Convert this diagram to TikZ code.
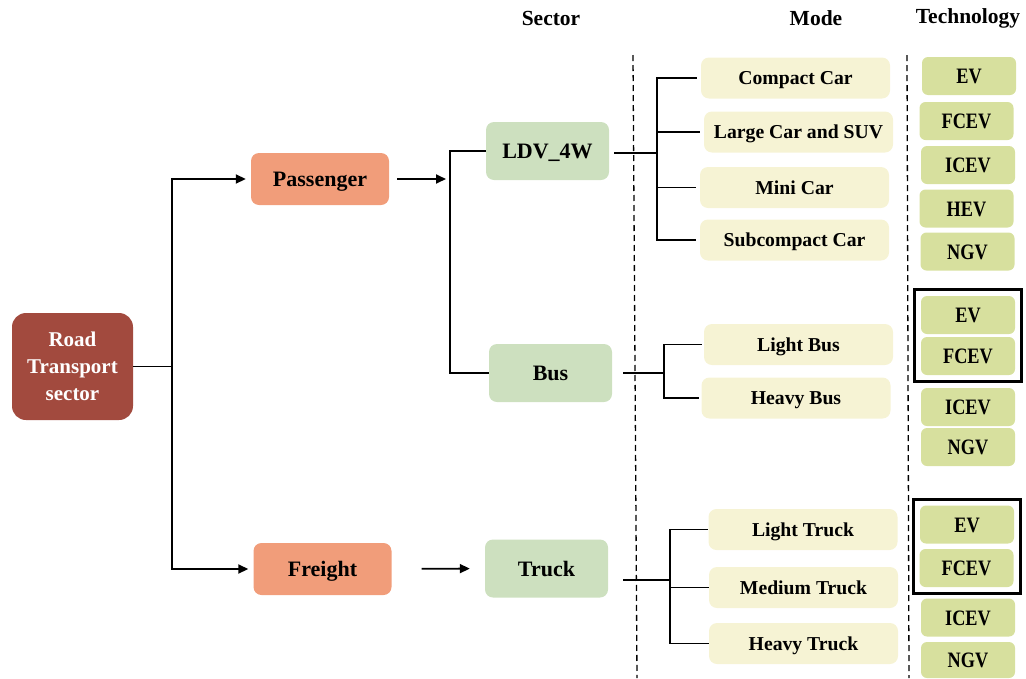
\documentclass[tikz,border=0pt]{standalone}
\usepackage{fontspec}
\setmainfont{Liberation Serif}
\usepackage{graphicx}
\usetikzlibrary{arrows.meta,fit}

\definecolor{roadred}{RGB}{162,74,62}
\definecolor{salmon}{RGB}{241,157,122}
\definecolor{sectgreen}{RGB}{205,224,191}
\definecolor{modeyellow}{RGB}{246,243,212}
\definecolor{techgreen}{RGB}{215,224,158}

% narrow labels used in the technology column
\newcommand{\techlabel}[1]{\scalebox{0.83}[1]{#1}}

\tikzset{
  base/.style={rounded corners=8pt, inner sep=0pt, align=center},
  roadbox/.style={base, fill=roadred, text=white, rounded corners=14pt,
    minimum width=121pt, minimum height=107pt,
    font=\bfseries\fontsize{21}{27}\selectfont},
  groupbox/.style={base, fill=salmon, minimum width=138pt, minimum height=52pt,
    text height=15pt, text depth=0pt,
    font=\bfseries\fontsize{22}{24}\selectfont},
  sectbox/.style={base, fill=sectgreen, minimum width=123pt, minimum height=58pt,
    text height=15pt, text depth=0pt,
    font=\bfseries\fontsize{22}{24}\selectfont},
  modebox/.style={base, fill=modeyellow, minimum width=189pt, minimum height=41pt,
    text height=13.5pt, text depth=0pt,
    font=\bfseries\fontsize{19.7}{22}\selectfont},
  techbox/.style={base, fill=techgreen, rounded corners=6pt,
    minimum width=94pt, minimum height=38pt,
    text height=15pt, text depth=0pt,
    font=\bfseries\fontsize{22}{24}\selectfont},
  header/.style={font=\bfseries\fontsize{21.5}{24}\selectfont},
  link/.style={line width=1.2pt},
  flow/.style={line width=1.8pt, -{Triangle[length=10pt,width=9pt]}},
  divider/.style={dash pattern=on 6pt off 4pt, line width=1.3pt},
  frame/.style={draw, line width=3pt, inner sep=6pt}
}

\begin{document}
\begin{tikzpicture}[x=1pt,y=-1pt]
\useasboundingbox (0,0) rectangle (1026,678);

% column headings
\node[header] (hsector) at (551,18) {Sector};
\node[header] (hmode) at (816,18) {Mode};
\node[header] (htech) at (968,18) {Technology};

% column dividers
\draw[divider] (633,55) -- (637,678);
\draw[divider] (907,55) -- (909,678);

% root and groups
\node[roadbox] (road) at (72.5,366.5) {Road\\Transport\\sector};
\node[groupbox] (pass) at (320,179) {Passenger};
\node[groupbox] (freight) at (322.5,569) {Freight};

% sectors
\node[sectbox] (ldv) at (547.5,151) {LDV\_4W};
\node[sectbox] (bus) at (550.5,373) {Bus};
\node[sectbox] (truck) at (546.5,568.5) {Truck};

% modes
\node[modebox] (compact) at (795.5,78) {Compact Car};
\node[modebox] (large) at (798.5,132) {Large Car and SUV};
\node[modebox] (mini) at (794.5,187.5) {Mini Car};
\node[modebox] (subcompact) at (794.5,240) {Subcompact Car};
\node[modebox] (lbus) at (798.5,344.5) {Light Bus};
\node[modebox] (hbus) at (796,398) {Heavy Bus};
\node[modebox] (ltruck) at (803,529.5) {Light Truck};
\node[modebox] (mtruck) at (803.5,587.5) {Medium Truck};
\node[modebox] (htruck) at (803.5,643.5) {Heavy Truck};

% technologies
\node[techbox] (evA) at (969,76) {\techlabel{EV}};
\node[techbox] (fcevA) at (966.5,121) {\techlabel{FCEV}};
\node[techbox] (icevA) at (968,165) {\techlabel{ICEV}};
\node[techbox] (hevA) at (966.5,208.5) {\techlabel{HEV}};
\node[techbox] (ngvA) at (967.5,251.5) {\techlabel{NGV}};

\node[techbox] (evB) at (968,315) {\techlabel{EV}};
\node[techbox] (fcevB) at (968,356) {\techlabel{FCEV}};
\node[techbox] (icevB) at (968,407) {\techlabel{ICEV}};
\node[techbox] (ngvB) at (968,447) {\techlabel{NGV}};

\node[techbox] (evC) at (967,524.5) {\techlabel{EV}};
\node[techbox] (fcevC) at (966.5,568) {\techlabel{FCEV}};
\node[techbox] (icevC) at (968,617.5) {\techlabel{ICEV}};
\node[techbox, minimum height=36pt] (ngvC) at (968,660) {\techlabel{NGV}};

\node[frame, fit=(evB)(fcevB)] (frameB) {};
\node[frame, fit=(evC)(fcevC)] (frameC) {};

% junction points
\coordinate (rj) at (172,366.5);
\coordinate (pj) at (450,179);
\coordinate (lj) at (657,153);
\coordinate (bj) at (664,373);
\coordinate (tj) at (670,580);

% root to groups
\draw[link] (road.east) -- (rj);
\draw[flow, shorten >=5pt] (rj) |- (pass.west);
\draw[flow, shorten >=5pt] (rj) |- (freight.west);

% groups to sectors
\draw[flow, shorten <=8pt, shorten >=4pt] (pass.east) -- (pj);
\draw[link] (ldv.west) -| (pj) |- (bus.west);
\draw[flow, shorten <=30pt, shorten >=15pt] (freight.east) -- (truck.west);

% sectors to modes
\draw[link, shorten <=5pt] (ldv.east |- lj) -- (lj);
\foreach \m in {compact,large,mini,subcompact}
  \draw[link, shorten >=4pt] (lj) |- (\m.west);

\draw[link, shorten <=11pt] (bus.east |- bj) -- (bj);
\foreach \m in {lbus,hbus}
  \draw[link, shorten >=2pt] (bj) |- (\m.west);

\draw[link, shorten <=15pt] (truck.east |- tj) -- (tj);
\foreach \m in {ltruck,mtruck,htruck}
  \draw[link] (tj) |- (\m.west);
\end{tikzpicture}
\end{document}
